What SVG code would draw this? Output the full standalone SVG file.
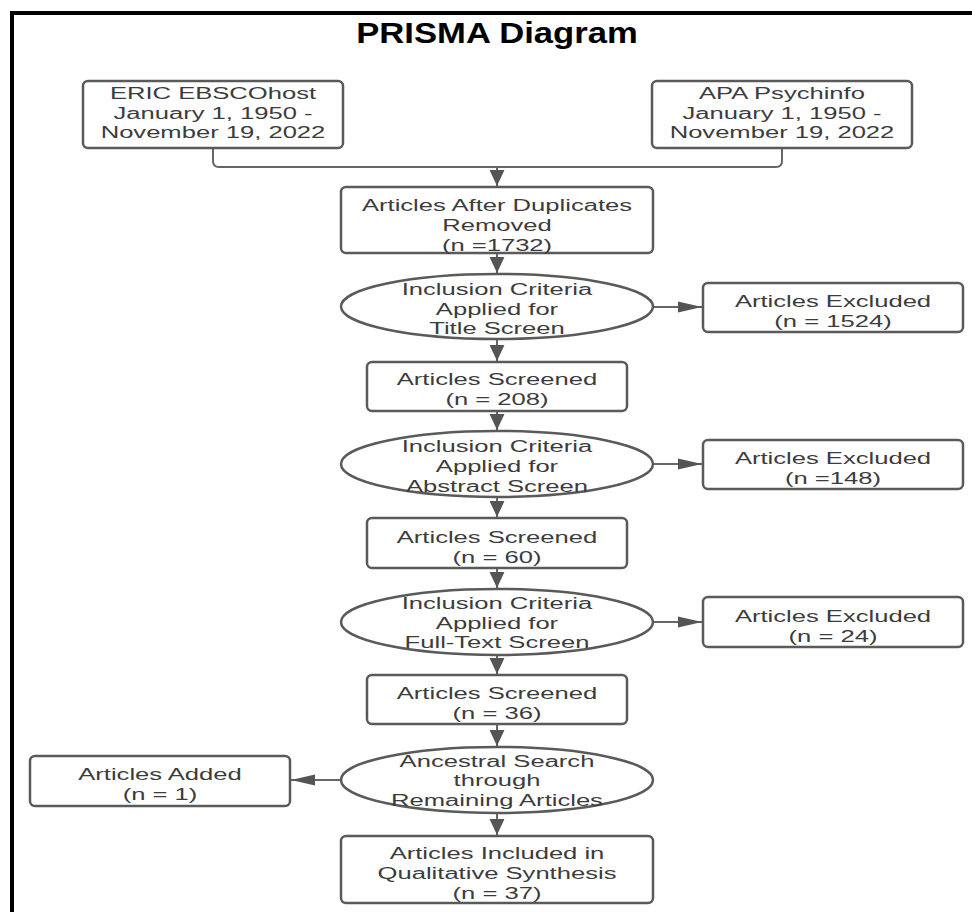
<svg xmlns="http://www.w3.org/2000/svg" width="972" height="912" viewBox="0 0 972 912">
<style>
.frame{fill:none;stroke:#000;stroke-width:4}
.box{fill:#fff;stroke:#5a5a5a;stroke-width:2.5}
.t{font-family:"Liberation Sans",Arial,sans-serif;font-size:16px;fill:#3c3c3c;text-anchor:middle}
.title{font-family:"Liberation Sans",Arial,sans-serif;font-size:30px;font-weight:bold;fill:#000;text-anchor:middle}
.c{fill:none;stroke:#666;stroke-width:2}
.cv{marker-end:url(#av)}
.ch{marker-end:url(#ah)}
</style>
<defs>
<marker id="av" markerUnits="userSpaceOnUse" markerWidth="16" markerHeight="16" viewBox="0 0 15 14" refX="15" refY="7" orient="auto">
<path d="M0,0 L15,7 L0,14 Z" fill="#555"/>
</marker>
<marker id="ah" markerUnits="userSpaceOnUse" markerWidth="24" markerHeight="12" viewBox="0 0 22 10" refX="22" refY="5" orient="auto">
<path d="M0,0 L22,5 L0,10 Z" fill="#555"/>
</marker>
</defs>
<rect width="972" height="912" fill="#fff"/>
<path class="frame" d="M12,914 V13 H974"/>
<text class="title" transform="translate(497 0) scale(1.155 1)" x="0" y="43">PRISMA Diagram</text>

<g id="connectors">
<path class="c" d="M213,148 V161 Q213,167 219,167 H776 Q782,167 782,161 V148"/>
<path class="c cv" d="M497,167 V186"/>
<path class="c cv" d="M497,253 V273"/>
<path class="c cv" d="M497,339 V361"/>
<path class="c cv" d="M497,411 V430"/>
<path class="c cv" d="M497,497 V517"/>
<path class="c cv" d="M497,568 V588"/>
<path class="c cv" d="M497,655 V674"/>
<path class="c cv" d="M497,724 V746"/>
<path class="c cv" d="M497,813 V835"/>
<path class="c ch" d="M653,307 H702"/>
<path class="c ch" d="M653,464 H702"/>
<path class="c ch" d="M653,622 H702"/>
<path class="c ch" d="M341,780 H291"/>
</g>

<g id="eric">
<rect class="box" x="83" y="81" width="260" height="67" rx="5"/>
<text class="t" transform="translate(213 0) scale(1.6 1)"><tspan x="0" y="99">ERIC EBSCOhost</tspan><tspan x="0" y="119">January 1, 1950 -</tspan><tspan x="0" y="138">November 19, 2022</tspan></text>
</g>
<g id="apa">
<rect class="box" x="652" y="81" width="260" height="67" rx="5"/>
<text class="t" transform="translate(782 0) scale(1.6 1)"><tspan x="0" y="99">APA Psychinfo</tspan><tspan x="0" y="119">January 1, 1950 -</tspan><tspan x="0" y="138">November 19, 2022</tspan></text>
</g>
<g id="duplicates">
<rect class="box" x="341" y="187" width="312" height="66" rx="5"/>
<text class="t" transform="translate(497 0) scale(1.6 1)"><tspan x="0" y="211">Articles After Duplicates</tspan><tspan x="0" y="231">Removed</tspan><tspan x="0" y="251">(n =1732)</tspan></text>
</g>
<g id="title-screen">
<ellipse class="box" cx="497" cy="306.5" rx="156" ry="32.5"/>
<text class="t" transform="translate(497 0) scale(1.6 1)"><tspan x="0" y="295">Inclusion Criteria</tspan><tspan x="0" y="315">Applied for</tspan><tspan x="0" y="334">Title Screen</tspan></text>
</g>
<g id="excluded-1">
<rect class="box" x="703" y="283" width="260" height="49" rx="5"/>
<text class="t" transform="translate(833 0) scale(1.6 1)"><tspan x="0" y="307">Articles Excluded</tspan><tspan x="0" y="327">(n = 1524)</tspan></text>
</g>
<g id="screened-208">
<rect class="box" x="367" y="362" width="260" height="49" rx="5"/>
<text class="t" transform="translate(497 0) scale(1.6 1)"><tspan x="0" y="385">Articles Screened</tspan><tspan x="0" y="405">(n = 208)</tspan></text>
</g>
<g id="abstract-screen">
<ellipse class="box" cx="497" cy="464" rx="156" ry="33"/>
<text class="t" transform="translate(497 0) scale(1.6 1)"><tspan x="0" y="452">Inclusion Criteria</tspan><tspan x="0" y="472">Applied for</tspan><tspan x="0" y="492">Abstract Screen</tspan></text>
</g>
<g id="excluded-2">
<rect class="box" x="703" y="440" width="260" height="49" rx="5"/>
<text class="t" transform="translate(833 0) scale(1.6 1)"><tspan x="0" y="464">Articles Excluded</tspan><tspan x="0" y="484">(n =148)</tspan></text>
</g>
<g id="screened-60">
<rect class="box" x="367" y="518" width="260" height="50" rx="5"/>
<text class="t" transform="translate(497 0) scale(1.6 1)"><tspan x="0" y="543">Articles Screened</tspan><tspan x="0" y="563">(n = 60)</tspan></text>
</g>
<g id="fulltext-screen">
<ellipse class="box" cx="497" cy="622" rx="156" ry="33"/>
<text class="t" transform="translate(497 0) scale(1.6 1)"><tspan x="0" y="609">Inclusion Criteria</tspan><tspan x="0" y="629">Applied for</tspan><tspan x="0" y="648">Full-Text Screen</tspan></text>
</g>
<g id="excluded-3">
<rect class="box" x="703" y="597" width="260" height="50" rx="5"/>
<text class="t" transform="translate(833 0) scale(1.6 1)"><tspan x="0" y="622">Articles Excluded</tspan><tspan x="0" y="642">(n = 24)</tspan></text>
</g>
<g id="screened-36">
<rect class="box" x="367" y="675" width="260" height="49" rx="5"/>
<text class="t" transform="translate(497 0) scale(1.6 1)"><tspan x="0" y="699">Articles Screened</tspan><tspan x="0" y="719">(n = 36)</tspan></text>
</g>
<g id="ancestral-search">
<ellipse class="box" cx="497" cy="780" rx="156" ry="33"/>
<text class="t" transform="translate(497 0) scale(1.6 1)"><tspan x="0" y="767">Ancestral Search</tspan><tspan x="0" y="786">through</tspan><tspan x="0" y="806">Remaining Articles</tspan></text>
</g>
<g id="added">
<rect class="box" x="30" y="756" width="260" height="50" rx="5"/>
<text class="t" transform="translate(160 0) scale(1.6 1)"><tspan x="0" y="780">Articles Added</tspan><tspan x="0" y="800">(n = 1)</tspan></text>
</g>
<g id="included">
<rect class="box" x="341" y="836" width="312" height="67" rx="5"/>
<text class="t" transform="translate(497 0) scale(1.6 1)"><tspan x="0" y="859">Articles Included in</tspan><tspan x="0" y="879">Qualitative Synthesis</tspan><tspan x="0" y="899">(n = 37)</tspan></text>
</g>
</svg>
